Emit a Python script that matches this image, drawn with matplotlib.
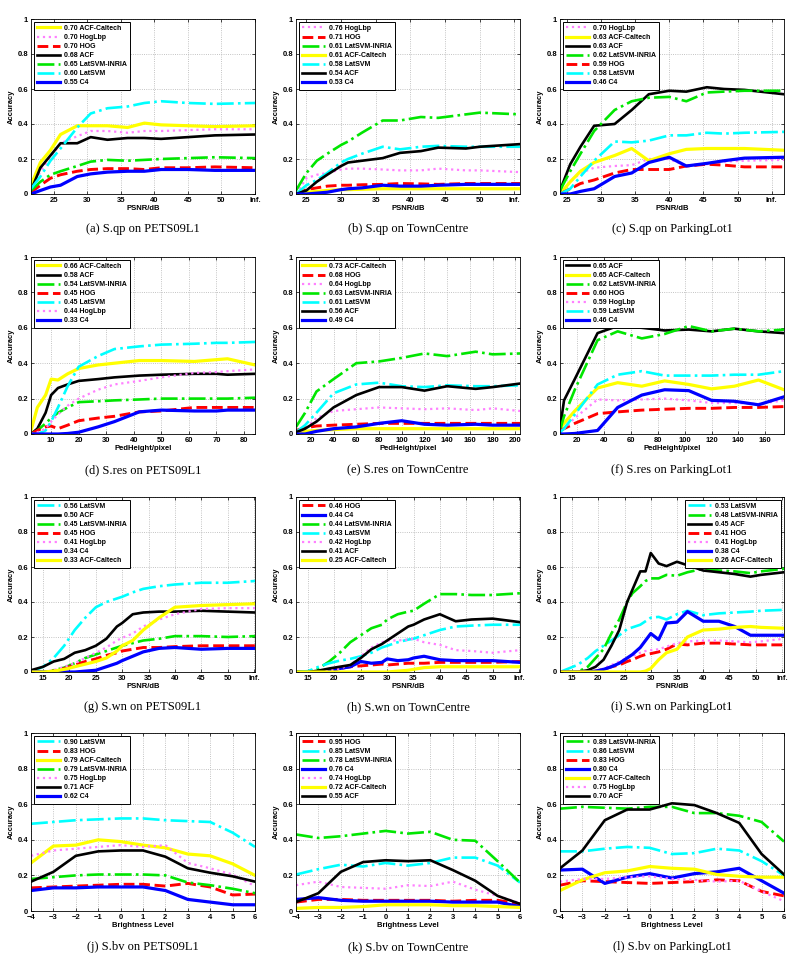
import matplotlib.pyplot as plt

plt.rcParams['font.family'] = ['Liberation Sans', 'DejaVu Sans']

# line look for each detector
colors = {'ACF-Caltech': '#ffff00', 'HogLbp': '#ff80ff', 'HOG': '#ff0000', 'ACF': '#000000',
          'LatSVM-INRIA': '#00e600', 'LatSVM': '#00ffff', 'C4': '#0000ff'}
styles = {'ACF-Caltech': '-', 'HogLbp': ':', 'HOG': '--', 'ACF': '-',
          'LatSVM-INRIA': '-.', 'LatSVM': '-.', 'C4': '-'}
widths = {'ACF-Caltech': 2.3, 'HogLbp': 1.6, 'HOG': 2.1, 'ACF': 1.9,
          'LatSVM-INRIA': 1.9, 'LatSVM': 1.9, 'C4': 2.3}

psnr_ticks = [25, 30, 35, 40, 45, 50, 55]
psnr_labels = ['25', '30', '35', '40', '45', '50', 'Inf.']
psnr_ticks2 = [15, 20, 25, 30, 35, 40, 45, 50, 55]
psnr_labels2 = ['15', '20', '25', '30', '35', '40', '45', '50', 'Inf.']
bright = [-4, -3, -2, -1, 0, 1, 2, 3, 4, 5, 6]

# (a) S.qp on PETS09L1
a_x = [21.6, 23, 24.5, 26, 28.5, 30.5, 33, 36, 38.5, 41, 45, 49, 55]
a_acc = {
    'ACF-Caltech': [0.05, 0.18, 0.25, 0.34, 0.39, 0.39, 0.39, 0.38, 0.405, 0.395, 0.39, 0.385, 0.39],
    'HogLbp': [0.02, 0.13, 0.21, 0.29, 0.33, 0.36, 0.36, 0.35, 0.36, 0.36, 0.365, 0.37, 0.37],
    'HOG': [0.01, 0.05, 0.09, 0.11, 0.13, 0.14, 0.145, 0.145, 0.14, 0.15, 0.15, 0.155, 0.15],
    'ACF': [0.02, 0.15, 0.22, 0.29, 0.29, 0.325, 0.31, 0.32, 0.32, 0.315, 0.325, 0.335, 0.34],
    'LatSVM-INRIA': [0.02, 0.07, 0.11, 0.13, 0.16, 0.185, 0.195, 0.19, 0.195, 0.2, 0.205, 0.21, 0.205],
    'LatSVM': [0.03, 0.1, 0.19, 0.26, 0.38, 0.46, 0.49, 0.5, 0.52, 0.53, 0.52, 0.515, 0.52],
    'C4': [0.0, 0.02, 0.04, 0.05, 0.1, 0.115, 0.125, 0.13, 0.13, 0.14, 0.14, 0.135, 0.135],
}
a_score = [0.70, 0.70, 0.70, 0.68, 0.65, 0.60, 0.55]

# (b) S.qp on TownCentre
b_x = [23.5, 25, 26.5, 28, 30, 31, 33, 36, 38.5, 41.5, 44, 48, 50, 55.8]
b_acc = {
    'HogLbp': [0.0, 0.09, 0.11, 0.12, 0.14, 0.145, 0.145, 0.14, 0.135, 0.135, 0.145, 0.135, 0.135, 0.125],
    'HOG': [0.0, 0.025, 0.035, 0.045, 0.05, 0.05, 0.053, 0.055, 0.06, 0.058, 0.055, 0.06, 0.06, 0.06],
    'LatSVM-INRIA': [0.02, 0.12, 0.19, 0.23, 0.28, 0.3, 0.35, 0.42, 0.42, 0.44, 0.435, 0.455, 0.465, 0.455],
    'ACF-Caltech': [0.0, 0.01, 0.015, 0.02, 0.025, 0.025, 0.027, 0.03, 0.03, 0.03, 0.03, 0.03, 0.03, 0.03],
    'LatSVM': [0.0, 0.05, 0.08, 0.12, 0.18, 0.2, 0.23, 0.27, 0.255, 0.27, 0.275, 0.27, 0.27, 0.27],
    'ACF': [0.0, 0.02, 0.07, 0.11, 0.16, 0.18, 0.19, 0.205, 0.235, 0.245, 0.265, 0.26, 0.27, 0.285],
    'C4': [0.0, 0.0, 0.005, 0.01, 0.025, 0.03, 0.035, 0.05, 0.045, 0.045, 0.05, 0.055, 0.055, 0.055],
}
b_score = [0.76, 0.71, 0.61, 0.61, 0.58, 0.54, 0.53]

# (c) S.qp on ParkingLot1
c_x = [24, 25.5, 27, 29, 32, 34.5, 37, 40, 42.5, 45.5, 48, 51, 56.8]
c_acc = {
    'HogLbp': [0.0, 0.07, 0.12, 0.15, 0.16, 0.165, 0.2, 0.2, 0.16, 0.17, 0.185, 0.19, 0.195],
    'ACF-Caltech': [0.0, 0.07, 0.13, 0.18, 0.22, 0.26, 0.19, 0.23, 0.255, 0.26, 0.26, 0.26, 0.25],
    'ACF': [0.02, 0.17, 0.27, 0.39, 0.4, 0.48, 0.57, 0.59, 0.585, 0.61, 0.6, 0.595, 0.57],
    'LatSVM-INRIA': [0.02, 0.13, 0.23, 0.36, 0.48, 0.53, 0.55, 0.555, 0.53, 0.58, 0.585, 0.59, 0.59],
    'HOG': [0.0, 0.03, 0.06, 0.08, 0.12, 0.14, 0.14, 0.14, 0.16, 0.17, 0.165, 0.155, 0.155],
    'LatSVM': [0.0, 0.03, 0.1, 0.19, 0.3, 0.295, 0.305, 0.335, 0.335, 0.35, 0.345, 0.35, 0.355],
    'C4': [0.0, 0.0, 0.015, 0.03, 0.1, 0.12, 0.18, 0.21, 0.16, 0.175, 0.19, 0.205, 0.21],
}
c_score = [0.70, 0.63, 0.63, 0.62, 0.59, 0.58, 0.46]

# (d) S.res on PETS09L1
d_x = [2.7, 5, 8, 10, 12.5, 16, 20, 27, 33, 42, 50, 62, 70, 74, 84]
d_acc = {
    'ACF-Caltech': [0.02, 0.15, 0.22, 0.31, 0.305, 0.34, 0.37, 0.39, 0.4, 0.415, 0.415, 0.41, 0.42, 0.425, 0.39],
    'ACF': [0.0, 0.03, 0.12, 0.22, 0.26, 0.28, 0.3, 0.31, 0.32, 0.33, 0.335, 0.34, 0.34, 0.335, 0.34],
    'LatSVM-INRIA': [0.0, 0.02, 0.06, 0.09, 0.12, 0.15, 0.18, 0.185, 0.19, 0.195, 0.2, 0.2, 0.2, 0.2, 0.205],
    'HOG': [0.0, 0.02, 0.04, 0.045, 0.03, 0.05, 0.075, 0.09, 0.1, 0.125, 0.13, 0.15, 0.15, 0.15, 0.15],
    'LatSVM': [0.0, 0.0, 0.02, 0.07, 0.15, 0.27, 0.38, 0.44, 0.48, 0.495, 0.505, 0.51, 0.515, 0.515, 0.52],
    'HogLbp': [0.0, 0.01, 0.03, 0.07, 0.11, 0.16, 0.2, 0.25, 0.28, 0.3, 0.32, 0.345, 0.35, 0.355, 0.365],
    'C4': [0.0, 0.0, 0.0, 0.0, 0.0, 0.003, 0.01, 0.04, 0.07, 0.125, 0.135, 0.13, 0.13, 0.135, 0.135],
}
d_score = [0.66, 0.58, 0.54, 0.45, 0.45, 0.44, 0.33]

# (e) S.res on TownCentre
e_x = [7, 15, 25, 40, 60, 80, 100, 120, 140, 165, 180, 204]
e_acc = {
    'ACF-Caltech': [0.01, 0.015, 0.02, 0.025, 0.03, 0.03, 0.03, 0.03, 0.03, 0.03, 0.03, 0.03],
    'HOG': [0.02, 0.035, 0.045, 0.05, 0.055, 0.06, 0.06, 0.06, 0.06, 0.06, 0.06, 0.06],
    'HogLbp': [0.0, 0.03, 0.09, 0.13, 0.14, 0.15, 0.145, 0.14, 0.145, 0.135, 0.145, 0.13],
    'LatSVM-INRIA': [0.04, 0.12, 0.24, 0.31, 0.4, 0.41, 0.43, 0.455, 0.44, 0.465, 0.45, 0.455],
    'LatSVM': [0.01, 0.05, 0.12, 0.23, 0.28, 0.29, 0.27, 0.265, 0.275, 0.27, 0.27, 0.275],
    'ACF': [0.01, 0.03, 0.07, 0.15, 0.22, 0.265, 0.265, 0.245, 0.27, 0.255, 0.265, 0.285],
    'C4': [0.0, 0.0, 0.015, 0.03, 0.04, 0.06, 0.075, 0.055, 0.05, 0.055, 0.05, 0.05],
}
e_score = [0.73, 0.68, 0.64, 0.63, 0.61, 0.56, 0.49]

# (f) S.res on ParkingLot1
f_x = [7, 10, 18, 35, 50, 68, 85, 103, 120, 137, 155, 174]
f_acc = {
    'ACF': [0.03, 0.19, 0.31, 0.57, 0.61, 0.6, 0.585, 0.59, 0.58, 0.595, 0.58, 0.57],
    'ACF-Caltech': [0.03, 0.06, 0.13, 0.26, 0.29, 0.27, 0.3, 0.28, 0.255, 0.27, 0.305, 0.25],
    'LatSVM-INRIA': [0.02, 0.1, 0.25, 0.53, 0.58, 0.54, 0.565, 0.61, 0.58, 0.595, 0.58, 0.59],
    'HOG': [0.02, 0.03, 0.06, 0.115, 0.125, 0.135, 0.14, 0.145, 0.145, 0.15, 0.15, 0.155],
    'HogLbp': [0.0, 0.03, 0.09, 0.195, 0.19, 0.195, 0.2, 0.19, 0.175, 0.175, 0.17, 0.19],
    'LatSVM': [0.01, 0.03, 0.11, 0.28, 0.335, 0.355, 0.33, 0.33, 0.33, 0.335, 0.335, 0.355],
    'C4': [0.0, 0.0, 0.003, 0.02, 0.15, 0.22, 0.25, 0.245, 0.19, 0.185, 0.165, 0.21],
}
f_score = [0.65, 0.65, 0.62, 0.60, 0.59, 0.59, 0.46]

# (g) S.wn on PETS09L1
g_x = [12.7, 15, 17, 19, 21, 23, 25, 27, 29, 30, 32, 34, 37, 40, 45, 50, 55.2]
g_acc = {
    'LatSVM': [0.0, 0.03, 0.08, 0.15, 0.24, 0.31, 0.37, 0.4, 0.42, 0.43, 0.455, 0.475, 0.49, 0.5, 0.51, 0.51, 0.52],
    'ACF': [0.01, 0.03, 0.06, 0.075, 0.11, 0.125, 0.15, 0.19, 0.26, 0.28, 0.33, 0.34, 0.345, 0.345, 0.35, 0.345, 0.34],
    'LatSVM-INRIA': [0.0, 0.0, 0.01, 0.025, 0.05, 0.08, 0.1, 0.12, 0.14, 0.15, 0.165, 0.18, 0.19, 0.205, 0.205, 0.2, 0.205],
    'HOG': [0.0, 0.0, 0.005, 0.02, 0.04, 0.06, 0.075, 0.095, 0.11, 0.12, 0.13, 0.14, 0.14, 0.145, 0.15, 0.15, 0.15],
    'HogLbp': [0.0, 0.0, 0.01, 0.03, 0.05, 0.08, 0.11, 0.14, 0.18, 0.195, 0.22, 0.26, 0.3, 0.33, 0.36, 0.365, 0.365],
    'C4': [0.0, 0.0, 0.0, 0.0, 0.0, 0.005, 0.01, 0.03, 0.05, 0.065, 0.09, 0.115, 0.135, 0.14, 0.13, 0.135, 0.135],
    'ACF-Caltech': [0.0, 0.0, 0.005, 0.015, 0.03, 0.045, 0.06, 0.08, 0.12, 0.15, 0.18, 0.24, 0.31, 0.37, 0.38, 0.385, 0.39],
}
g_score = [0.56, 0.50, 0.45, 0.45, 0.41, 0.34, 0.33]

# (h) S.wn on TownCentre
h_x = [12.7, 15, 17, 19, 21, 23, 25, 27, 29, 30, 32, 34, 35, 37, 40, 43, 46, 50, 55.2]
h_acc = {
    'HOG': [0.0, 0.0, 0.003, 0.008, 0.02, 0.03, 0.035, 0.04, 0.045, 0.04, 0.045, 0.05, 0.05, 0.05, 0.055, 0.055, 0.055, 0.055, 0.06],
    'C4': [0.0, 0.0, 0.003, 0.008, 0.02, 0.03, 0.06, 0.05, 0.055, 0.075, 0.065, 0.07, 0.08, 0.09, 0.07, 0.065, 0.065, 0.065, 0.055],
    'LatSVM-INRIA': [0.0, 0.0, 0.02, 0.06, 0.11, 0.17, 0.21, 0.25, 0.27, 0.3, 0.33, 0.345, 0.35, 0.39, 0.445, 0.445, 0.44, 0.44, 0.45],
    'LatSVM': [0.0, 0.005, 0.03, 0.05, 0.065, 0.075, 0.09, 0.11, 0.14, 0.15, 0.17, 0.185, 0.19, 0.21, 0.24, 0.26, 0.265, 0.27, 0.27],
    'HogLbp': [0.0, 0.0, 0.003, 0.008, 0.02, 0.04, 0.09, 0.14, 0.17, 0.18, 0.18, 0.185, 0.19, 0.17, 0.155, 0.125, 0.12, 0.11, 0.125],
    'ACF': [0.0, 0.0, 0.008, 0.02, 0.03, 0.04, 0.08, 0.13, 0.16, 0.18, 0.22, 0.26, 0.27, 0.3, 0.33, 0.29, 0.3, 0.305, 0.285],
    'ACF-Caltech': [0.0, 0.0, 0.0, 0.0, 0.0, 0.0, 0.0, 0.0, 0.0, 0.0, 0.005, 0.01, 0.015, 0.025, 0.03, 0.03, 0.03, 0.03, 0.03],
}
h_score = [0.46, 0.44, 0.44, 0.43, 0.42, 0.41, 0.25]

# (i) S.wn on ParkingLot1
i_x = [12.7, 16, 18, 19.5, 21, 22.5, 24, 25.5, 26.5, 28, 29, 30, 31.5, 33, 35, 37, 40, 43, 46, 49, 51, 55.4]
i_acc = {
    'LatSVM': [0.0, 0.04, 0.08, 0.12, 0.15, 0.18, 0.21, 0.245, 0.255, 0.27, 0.29, 0.31, 0.315, 0.3, 0.33, 0.35, 0.325, 0.335, 0.34, 0.345, 0.35, 0.355],
    'LatSVM-INRIA': [0.0, 0.0, 0.03, 0.08, 0.13, 0.22, 0.3, 0.4, 0.45, 0.49, 0.52, 0.535, 0.535, 0.555, 0.55, 0.57, 0.59, 0.58, 0.575, 0.565, 0.575, 0.59],
    'ACF': [0.0, 0.0, 0.01, 0.03, 0.07, 0.15, 0.24, 0.4, 0.47, 0.575, 0.575, 0.68, 0.62, 0.605, 0.63, 0.61, 0.58, 0.57, 0.56, 0.545, 0.555, 0.57],
    'HOG': [0.0, 0.0, 0.0, 0.005, 0.015, 0.03, 0.04, 0.06, 0.07, 0.09, 0.1, 0.105, 0.115, 0.13, 0.16, 0.155, 0.165, 0.165, 0.16, 0.155, 0.155, 0.155],
    'HogLbp': [0.0, 0.0, 0.0, 0.005, 0.02, 0.04, 0.06, 0.08, 0.09, 0.11, 0.12, 0.125, 0.13, 0.145, 0.165, 0.175, 0.18, 0.18, 0.175, 0.17, 0.175, 0.19],
    'C4': [0.0, 0.0, 0.0, 0.005, 0.015, 0.03, 0.05, 0.08, 0.1, 0.14, 0.18, 0.22, 0.185, 0.28, 0.285, 0.345, 0.29, 0.29, 0.26, 0.21, 0.21, 0.21],
    'ACF-Caltech': [0.0, 0.0, 0.0, 0.0, 0.0, 0.0, 0.0, 0.0, 0.0, 0.0, 0.005, 0.02, 0.07, 0.11, 0.13, 0.2, 0.24, 0.245, 0.255, 0.26, 0.255, 0.25],
}
i_score = [0.53, 0.48, 0.45, 0.41, 0.41, 0.38, 0.26]

# (j) S.bv on PETS09L1
j_acc = {
    'LatSVM': [0.49, 0.5, 0.51, 0.515, 0.52, 0.52, 0.51, 0.505, 0.5, 0.44, 0.36],
    'HOG': [0.13, 0.135, 0.14, 0.145, 0.15, 0.15, 0.14, 0.155, 0.135, 0.09, 0.095],
    'ACF-Caltech': [0.27, 0.365, 0.37, 0.4, 0.39, 0.37, 0.355, 0.32, 0.31, 0.265, 0.2],
    'LatSVM-INRIA': [0.18, 0.19, 0.2, 0.205, 0.205, 0.205, 0.2, 0.16, 0.145, 0.125, 0.1],
    'HogLbp': [0.31, 0.34, 0.35, 0.36, 0.37, 0.36, 0.37, 0.27, 0.24, 0.205, 0.14],
    'ACF': [0.165, 0.22, 0.31, 0.335, 0.34, 0.34, 0.305, 0.24, 0.215, 0.195, 0.165],
    'C4': [0.115, 0.13, 0.13, 0.135, 0.135, 0.135, 0.115, 0.065, 0.05, 0.035, 0.035],
}
j_score = [0.90, 0.83, 0.79, 0.79, 0.75, 0.71, 0.62]

# (k) S.bv on TownCentre
k_acc = {
    'HOG': [0.05, 0.065, 0.065, 0.06, 0.06, 0.06, 0.06, 0.055, 0.06, 0.06, 0.04],
    'LatSVM': [0.205, 0.235, 0.26, 0.25, 0.27, 0.255, 0.27, 0.3, 0.3, 0.255, 0.16],
    'LatSVM-INRIA': [0.43, 0.41, 0.42, 0.435, 0.45, 0.435, 0.445, 0.4, 0.395, 0.28, 0.16],
    'C4': [0.065, 0.075, 0.06, 0.055, 0.055, 0.055, 0.055, 0.05, 0.05, 0.05, 0.025],
    'HogLbp': [0.145, 0.165, 0.135, 0.13, 0.125, 0.145, 0.14, 0.165, 0.12, 0.085, 0.045],
    'ACF-Caltech': [0.015, 0.02, 0.02, 0.025, 0.035, 0.035, 0.035, 0.03, 0.03, 0.025, 0.02],
    'ACF': [0.05, 0.1, 0.22, 0.275, 0.285, 0.28, 0.285, 0.23, 0.17, 0.085, 0.04],
}
k_score = [0.95, 0.85, 0.78, 0.76, 0.74, 0.72, 0.55]

# (l) S.bv on ParkingLot1
l_acc = {
    'LatSVM-INRIA': [0.575, 0.585, 0.58, 0.575, 0.585, 0.585, 0.55, 0.55, 0.535, 0.5, 0.39],
    'LatSVM': [0.335, 0.335, 0.35, 0.36, 0.355, 0.32, 0.325, 0.35, 0.34, 0.28, 0.2],
    'HOG': [0.145, 0.17, 0.165, 0.16, 0.155, 0.16, 0.165, 0.175, 0.17, 0.11, 0.085],
    'C4': [0.23, 0.235, 0.155, 0.19, 0.21, 0.185, 0.21, 0.22, 0.24, 0.17, 0.1],
    'ACF-Caltech': [0.115, 0.175, 0.215, 0.225, 0.25, 0.24, 0.235, 0.205, 0.195, 0.19, 0.19],
    'HogLbp': [0.165, 0.18, 0.18, 0.19, 0.195, 0.18, 0.175, 0.165, 0.17, 0.11, 0.055],
    'ACF': [0.24, 0.34, 0.51, 0.57, 0.57, 0.605, 0.595, 0.55, 0.495, 0.32, 0.205],
}
l_score = [0.89, 0.86, 0.83, 0.80, 0.77, 0.75, 0.70]

panels = [
    (a_x, a_acc, a_score, '(a) S.qp on PETS09L1', 'PSNR/dB', (21.6, 55), psnr_ticks, psnr_labels, 'upper left'),
    (b_x, b_acc, b_score, '(b) S.qp on TownCentre', 'PSNR/dB', (23.5, 55.8), psnr_ticks, psnr_labels, 'upper left'),
    (c_x, c_acc, c_score, '(c) S.qp on ParkingLot1', 'PSNR/dB', (24, 56.8), psnr_ticks, psnr_labels, 'upper left'),
    (d_x, d_acc, d_score, '(d) S.res on PETS09L1', 'PedHeight/pixel', (2.7, 84), list(range(10, 81, 10)), None, 'upper left'),
    (e_x, e_acc, e_score, '(e) S.res on TownCentre', 'PedHeight/pixel', (7, 204), list(range(20, 201, 20)), None, 'upper left'),
    (f_x, f_acc, f_score, '(f) S.res on ParkingLot1', 'PedHeight/pixel', (7, 174), list(range(20, 161, 20)), None, 'upper left'),
    (g_x, g_acc, g_score, '(g) S.wn on PETS09L1', 'PSNR/dB', (12.7, 55.2), psnr_ticks2, psnr_labels2, 'upper left'),
    (h_x, h_acc, h_score, '(h) S.wn on TownCentre', 'PSNR/dB', (12.7, 55.2), psnr_ticks2, psnr_labels2, 'upper left'),
    (i_x, i_acc, i_score, '(i) S.wn on ParkingLot1', 'PSNR/dB', (12.7, 55.4), psnr_ticks2, psnr_labels2, 'upper right'),
    (bright, j_acc, j_score, '(j) S.bv on PETS09L1', 'Brightness Level', (-4, 6), bright, None, 'upper left'),
    (bright, k_acc, k_score, '(k) S.bv on TownCentre', 'Brightness Level', (-4, 6), bright, None, 'upper left'),
    (bright, l_acc, l_score, '(l) S.bv on ParkingLot1', 'Brightness Level', (-4, 6), bright, None, 'upper left'),
]

W, H = 798, 956
col_left = [31, 296, 560]
row_top = [19, 257, 497, 733]
row_bot = [194, 434, 672, 911]
ax_w = 224

fig = plt.figure(figsize=(W / 100, H / 100), dpi=100)
for n, (x, acc, score, cap, xl, xlim, xt, xtl, loc) in enumerate(panels):
    r, c = divmod(n, 3)
    l, t, b = col_left[c], row_top[r], row_bot[r]
    ax = fig.add_axes([l / W, 1 - b / H, ax_w / W, (b - t) / H])
    for (name, y), s in zip(acc.items(), score):
        ax.plot(x, y, color=colors[name], linestyle=styles[name], lw=widths[name],
                label='%.2f %s' % (s, name))
    ax.set_xlim(*xlim)
    ax.set_ylim(0, 1)
    ax.set_xticks(xt)
    if xtl is not None:
        ax.set_xticklabels(xtl)
    else:
        ax.set_xticklabels([str(v).replace('-', '\u2212') for v in xt])
    ax.set_yticks([0, 0.2, 0.4, 0.6, 0.8, 1])
    ax.set_yticklabels(['0', '0.2', '0.4', '0.6', '0.8', '1'])
    ax.tick_params(direction='in', length=2.5, width=0.5, labelsize=5.5, pad=2,
                   top=True, right=True)
    for lab in ax.get_xticklabels() + ax.get_yticklabels():
        lab.set_fontweight('bold')
    ax.grid(True, linestyle=':', color='#b0b0b0', lw=0.6)
    for sp in ax.spines.values():
        sp.set_linewidth(0.6)
    ax.set_xlabel(xl, fontsize=5.5, fontweight='bold', labelpad=1)
    ax.set_ylabel('Accuracy', fontsize=5.5, fontweight='bold', labelpad=2)
    leg = ax.legend(loc=loc, prop={'weight': 'bold', 'size': 5},
                    handlelength=3.3, labelspacing=0.3, borderpad=0.45,
                    borderaxespad=0.4, handletextpad=0.6, fancybox=False,
                    framealpha=1)
    leg.get_frame().set_edgecolor('black')
    leg.get_frame().set_linewidth(0.7)
    cap_y = {0: 229, 1: 470, 2: 707, 3: 947}[r]
    fig.text((l + ax_w / 2) / W, 1 - cap_y / H, cap, ha='center', va='center',
             fontsize=9, family=['Liberation Serif', 'DejaVu Serif'])

fig.savefig('out.png', dpi=100)
